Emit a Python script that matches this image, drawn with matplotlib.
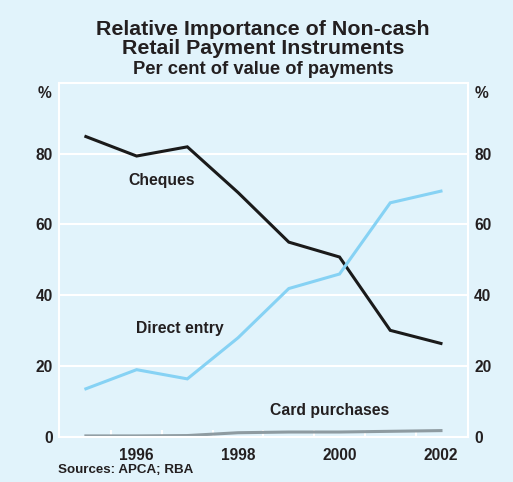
import matplotlib
matplotlib.use("Agg")
import matplotlib.pyplot as plt

years = [1995, 1996, 1997, 1998, 1999, 2000, 2001, 2002]
cheques = [84.8, 79.3, 81.9, 69.0, 55.0, 50.8, 30.1, 26.4]
direct_entry = [13.6, 19.0, 16.4, 28.0, 41.9, 46.0, 66.1, 69.4]
card_purchases = [0.3, 0.3, 0.4, 1.2, 1.4, 1.4, 1.6, 1.8]

yticks = [0, 20, 40, 60, 80]
xlabels = [1996, 1998, 2000, 2002]

bg = '#e1f3fb'
txt = '#231f20'

plt.rcParams['font.family'] = ['Liberation Sans', 'DejaVu Sans']
plt.rcParams['font.weight'] = 'bold'

fig = plt.figure(figsize=(5.13, 4.82), dpi=100, facecolor=bg)
ax = fig.add_axes([0.115, 0.0934, 0.797, 0.735])
ax.set_facecolor(bg)

ax.plot(years, cheques, color='#1a1a1a', lw=2.2, solid_joinstyle='miter')
ax.plot(years, direct_entry, color='#86d2f4', lw=2.2, solid_joinstyle='miter')
ax.plot(years, card_purchases, color='#8e9ba1', lw=2.2, solid_joinstyle='miter')

ax.set_xlim(1994.47, 2002.53)
ax.set_ylim(0, 100)

for v in yticks[1:]:
    ax.axhline(v, color='white', lw=1.5, zorder=0)
for s in ax.spines.values():
    s.set_color('white')
    s.set_linewidth(1.5)

ax.set_yticks(yticks)
ax.set_yticklabels([str(v) for v in yticks])
ax.tick_params(axis='y', length=0, labelsize=11.2, labelcolor=txt, pad=4.5,
               labelright=True, right=False)
ax.set_xticks([y + 0.5 for y in years[:-1]])
ax.set_xticklabels([])
ax.tick_params(axis='x', direction='in', length=5, width=1.5, color='white')
for x in xlabels:
    ax.text(x, -3.2, str(x), ha='center', va='top', fontsize=11.2,
            color=txt, transform=ax.transData)

fig.text(0.087, 0.806, '%', ha='center', va='center', fontsize=11.2, color=txt)
fig.text(0.938, 0.806, '%', ha='center', va='center', fontsize=11.2, color=txt)

ax.text(1996.5, 72.5, 'Cheques', ha='center', va='center', fontsize=11.3, color=txt)
ax.text(1996.85, 30.5, 'Direct entry', ha='center', va='center', fontsize=11.3, color=txt)
ax.text(1999.8, 7.5, 'Card purchases', ha='center', va='center', fontsize=11.3, color=txt)

fig.text(0.513, 0.919, 'Relative Importance of Non-cash\nRetail Payment Instruments',
         ha='center', va='center', fontsize=15.4, color=txt, linespacing=0.95)
fig.text(0.513, 0.855, 'Per cent of value of payments', ha='center', va='center',
         fontsize=13.2, color=txt)
fig.text(0.113, 0.025, 'Sources: APCA; RBA', ha='left', va='center', fontsize=9.6, color=txt)

fig.savefig('out.png', dpi=100, facecolor=bg)
